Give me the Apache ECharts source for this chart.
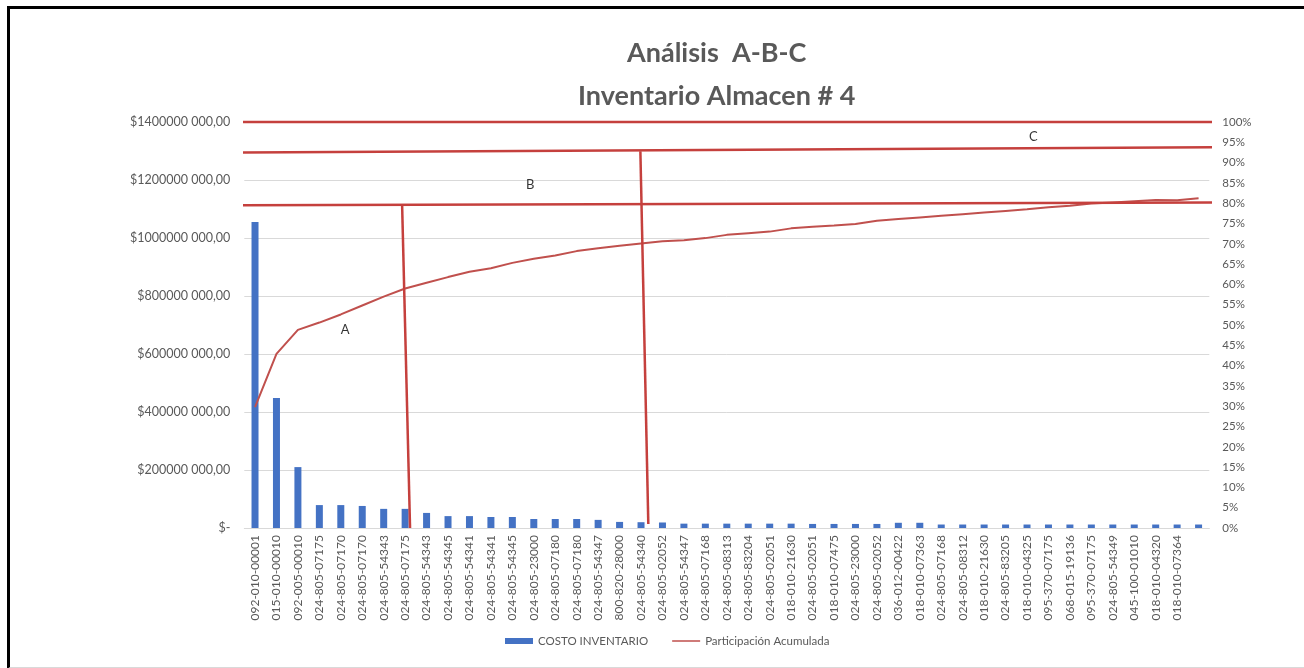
<!DOCTYPE html>
<html>
<head>
<meta charset="utf-8">
<script src="https://cdn.jsdelivr.net/npm/echarts@6/dist/echarts.min.js"></script>
<style>
  html, body { margin: 0; padding: 0; background: #fff; }
  #wrap { position: relative; width: 1304px; height: 668px; overflow: hidden; }
  #frame { position: absolute; left: 7px; top: 6px; width: 1320px; height: 658px;
           border-left: 3px solid #000; border-top: 3px solid #000; border-bottom: 2px solid #d9d9d9;
           pointer-events: none; z-index: 2; }
  #chart { position: absolute; left: 0; top: 0; width: 1304px; height: 668px; }
</style>
</head>
<body>
<div id="wrap">
  <div id="chart"></div>
  <div id="frame"></div>
</div>
<script>
const categories = [
  '092-010-00001','015-010-00010','092-005-00010','024-805-07175','024-805-07170',
  '024-805-07170','024-805-54343','024-805-07175','024-805-54343','024-805-54345',
  '024-805-54341','024-805-54341','024-805-54345','024-805-23000','024-805-07180',
  '024-805-07180','024-805-54347','800-820-28000','024-805-54340','024-805-02052',
  '024-805-54347','024-805-07168','024-805-08313','024-805-83204','024-805-02051',
  '018-010-21630','024-805-02051','018-010-07475','024-805-23000','024-805-02052',
  '036-012-00422','018-010-07363','024-805-07168','024-805-08312','018-010-21630',
  '024-805-83205','018-010-04325','095-370-07175','068-015-19136','095-370-07175',
  '024-805-54349','045-100-01010','018-010-04320','018-010-07364',''
];
const costoInventario = [
  1055000000, 448000000, 210000000, 79000000, 79000000,
  76000000, 66000000, 66000000, 52000000, 41000000,
  41000000, 38000000, 38000000, 31000000, 31000000,
  31000000, 28000000, 21000000, 20000000, 19000000,
  15000000, 15000000, 15000000, 15000000, 15000000,
  15000000, 14000000, 14000000, 14000000, 14000000,
  18000000, 18000000, 12000000, 12000000, 12000000,
  12000000, 12000000, 12000000, 12000000, 12000000,
  12000000, 12000000, 12000000, 12000000, 12000000
];
const participacionAcumulada = [
  29.8, 42.9, 48.8, 50.6, 52.6, 54.8, 57.0, 59.0, 60.4, 61.8,
  63.1, 64.0, 65.3, 66.3, 67.1, 68.2, 68.9, 69.5, 70.1, 70.6,
  70.9, 71.4, 72.2, 72.6, 73.0, 73.8, 74.2, 74.5, 74.9, 75.7,
  76.1, 76.5, 76.9, 77.3, 77.7, 78.1, 78.5, 79.0, 79.4, 79.9,
  80.2, 80.5, 80.8, 80.7, 81.2
];
// hand-drawn zone boundaries: [categoryPosition, percent] pairs
const zoneLines = [
  [[-0.7, 100.0], [45.1, 100.0]],
  [[-0.8, 92.5], [45.1, 93.8]],
  [[-0.85, 79.5], [45.1, 80.2]],
  [[6.86, 79.4], [7.23, 0.0]],
  [[17.97, 92.8], [18.34, 1.0]]
];
const zoneLabels = [
  [4.2, 48.8, 'A'],
  [12.83, 84.5, 'B'],
  [36.3, 96.3, 'C']
];
const titleLines = ['Análisis  A-B-C', 'Inventario Almacen # 4'];
const leftTicks = { min: 0, max: 1400000000, interval: 200000000 };
const rightTicks = { min: 0, max: 100, interval: 5 };

const FONT = 'Lato';
const TXT = '#595959';
const RED = '#C0504D';
const ANN = '#C5403D';

const chart = echarts.init(document.getElementById('chart'), null, { renderer: 'canvas' });

const annSeries = zoneLines.map((seg, i) => ({
  name: 'zone' + i,
  type: 'line',
  xAxisIndex: 1,
  yAxisIndex: 1,
  data: seg,
  symbol: 'none',
  clip: false,
  silent: true,
  lineStyle: { color: ANN, width: 2.5 },
  z: 5
}));

// thin line legend icon (tiny corner dots fix the bounding box to the item box)
const lineIcon = 'path://M0,0 L0.01,0 L0.01,0.01 Z M0,2.2 L28,2.2 L28,3.8 L0,3.8 Z M27.99,5.99 L28,6 L27.99,6 Z';

const option = {
  animation: false,
  backgroundColor: 'transparent',
  textStyle: { fontFamily: FONT },
  title: [
    {
      text: titleLines[0], left: 622, top: 35,
      textStyle: { fontFamily: FONT, fontSize: 27, fontWeight: 'bold', color: TXT }
    },
    {
      text: titleLines[1], left: 573, top: 78,
      textStyle: { fontFamily: FONT, fontSize: 27, fontWeight: 'bold', color: TXT }
    }
  ],
  legend: {
    data: [
      { name: 'COSTO INVENTARIO', icon: 'rect' },
      { name: 'Participación Acumulada', icon: lineIcon }
    ],
    top: 630,
    left: 500,
    itemWidth: 28,
    itemHeight: 6,
    itemGap: 24,
    textStyle: { fontFamily: FONT, fontSize: 11.5, color: TXT }
  },
  grid: { left: 244.3, right: 94.7, top: 122, bottom: 140, containLabel: false },
  xAxis: [
    {
      type: 'category',
      data: categories,
      axisLine: { lineStyle: { color: '#D9D9D9', width: 1 } },
      axisTick: { show: false },
      axisLabel: { rotate: 90, interval: 0, fontSize: 12, color: TXT, fontFamily: FONT, margin: 7 }
    },
    {
      type: 'value',
      min: -0.5,
      max: categories.length - 0.5,
      show: false
    }
  ],
  yAxis: [
    {
      type: 'value',
      min: leftTicks.min, max: leftTicks.max, interval: leftTicks.interval,
      axisLine: { show: false },
      axisTick: { show: false },
      splitLine: { lineStyle: { color: '#D9D9D9', width: 1 } },
      axisLabel: {
        color: TXT, fontSize: 12.5, fontFamily: FONT, margin: 14,
        formatter: v => v === 0 ? '$-' : '$' + (v / 1000) + ' 000,00'
      }
    },
    {
      type: 'value',
      min: rightTicks.min, max: rightTicks.max, interval: rightTicks.interval,
      position: 'right',
      axisLine: { show: false },
      axisTick: { show: false },
      splitLine: { show: false },
      axisLabel: { color: TXT, fontSize: 11.5, fontFamily: FONT, margin: 13, formatter: '{value}%' }
    }
  ],
  series: [
    {
      name: 'COSTO INVENTARIO',
      type: 'bar',
      data: costoInventario,
      barWidth: 7,
      itemStyle: { color: '#4472C4' },
      z: 2
    },
    {
      name: 'Participación Acumulada',
      type: 'line',
      yAxisIndex: 1,
      data: participacionAcumulada,
      symbol: 'none',
      lineStyle: { color: RED, width: 2 },
      itemStyle: { color: RED },
      z: 3
    },
    ...annSeries,
    {
      name: 'zoneLabels',
      type: 'scatter',
      xAxisIndex: 1,
      yAxisIndex: 1,
      data: zoneLabels,
      symbolSize: 1,
      itemStyle: { color: 'rgba(0,0,0,0)' },
      silent: true,
      label: {
        show: true,
        position: 'inside',
        formatter: p => p.data[2],
        color: '#000',
        fontSize: 13,
        fontFamily: FONT
      },
      z: 6
    }
  ]
};
chart.setOption(option);
</script>
</body>
</html>
